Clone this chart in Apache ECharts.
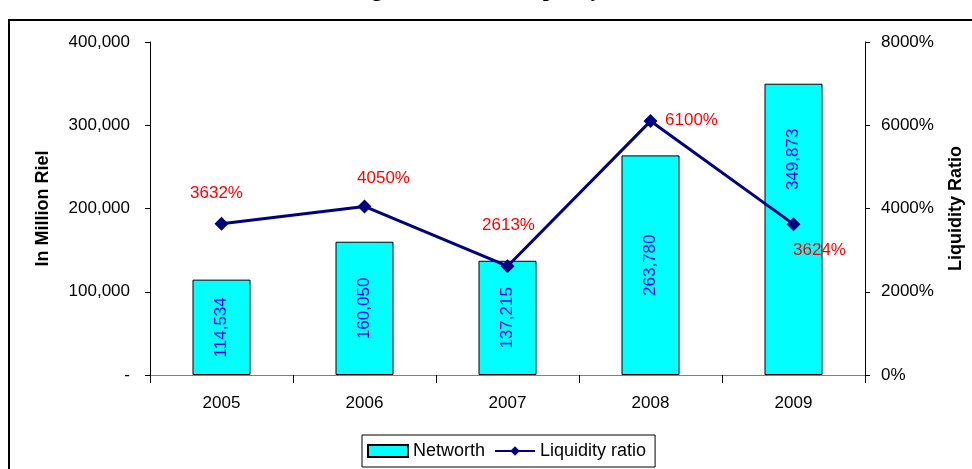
<!DOCTYPE html>
<html>
<head>
<meta charset="utf-8">
<script src="https://cdn.jsdelivr.net/npm/echarts@6/dist/echarts.min.js"></script>
<style>
  html, body { margin: 0; padding: 0; background: #fff; }
  #main { width: 972px; height: 469px; }
</style>
</head>
<body>
<div id="main"></div>
<script>
// data
const years = ['2005', '2006', '2007', '2008', '2009'];
const networth = [114534, 160050, 137215, 263780, 349873];
const liquidityRatio = [3632, 4050, 2613, 6100, 3624];   // in %
const leftTicks = [0, 100000, 200000, 300000, 400000];
const rightTicks = [0, 2000, 4000, 6000, 8000];

// label placement (pixels)
const ratioLabelOffset = [[-5, -31], [19, -28], [1, -41], [41, -1], [26, 26]];
const barLabelShift = [0, 0, 0, 0, 70];

let myChart = echarts.init(document.getElementById('main'));

let fmt = function (v) {
    if (v === 0) return '-';
    return String(v).replace(/\B(?=(\d{3})+(?!\d))/g, ',');
};

let option = {
    animation: false,
    textStyle: { fontFamily: 'Liberation Sans, Arial, sans-serif' },
    title: {
        text: 'Banking Networth and Liquidity Ratio',
        left: 476,
        textAlign: 'center',
        top: -25,
        textStyle: { fontFamily: 'Liberation Serif, serif', fontWeight: 'bold', fontSize: 21, color: '#000' }
    },
    graphic: [
        {
            type: 'polyline',
            shape: { points: [[9, 469], [9, 20], [972, 20]] },
            style: { stroke: '#000', lineWidth: 2, fill: null }
        }
    ],
    legend: {
        left: 362,
        top: 435,
        padding: [7, 9, 7, 5],
        borderColor: '#000',
        borderWidth: 1,
        borderRadius: 0,
        itemGap: 9,
        itemWidth: 40,
        itemHeight: 12,
        textStyle: { fontSize: 18, color: '#000', fontFamily: 'Liberation Sans, Arial, sans-serif' },
        data: [
            { name: 'Networth', icon: 'rect' },
            { name: 'Liquidity ratio' }
        ]
    },
    grid: { left: 150, right: 107, top: 42, bottom: 94, containLabel: false, outerBoundsMode: 'none' },
    xAxis: [
        {
            type: 'category',
            data: years,
            boundaryGap: true,
            axisLine: { lineStyle: { color: '#000', width: 1 } },
            axisTick: { show: true, length: 8, alignWithLabel: false, lineStyle: { color: '#000' } },
            axisLabel: { fontSize: 17, color: '#000', margin: 20 },
            splitLine: { show: false }
        },
        {
            type: 'category',
            data: years,
            position: 'top',
            axisLine: { lineStyle: { color: '#808080', width: 1 } },
            axisTick: { show: false },
            axisLabel: { show: false },
            splitLine: { show: false }
        }
    ],
    yAxis: [
        {
            type: 'value',
            min: leftTicks[0],
            max: leftTicks[leftTicks.length - 1],
            interval: leftTicks[1] - leftTicks[0],
            name: 'In Million Riel',
            nameLocation: 'middle',
            nameRotate: 90,
            nameGap: 98,
            nameTextStyle: { fontSize: 18, fontWeight: 'bold', color: '#000' },
            axisLine: { show: true, lineStyle: { color: '#000' } },
            axisTick: { show: true, length: 5, lineStyle: { color: '#000' } },
            axisLabel: { fontSize: 17, color: '#000', margin: 20, formatter: fmt },
            splitLine: { show: false }
        },
        {
            type: 'value',
            min: rightTicks[0],
            max: rightTicks[rightTicks.length - 1],
            interval: rightTicks[1] - rightTicks[0],
            position: 'right',
            name: 'Liquidity Ratio',
            nameLocation: 'middle',
            nameRotate: 90,
            nameGap: 82,
            nameTextStyle: { fontSize: 18, fontWeight: 'bold', color: '#000' },
            axisLine: { show: true, lineStyle: { color: '#000' } },
            axisTick: { show: true, length: 5, lineStyle: { color: '#000' } },
            axisLabel: { fontSize: 17, color: '#000', margin: 16, formatter: function (v) { return v + '%'; } },
            splitLine: { show: false }
        }
    ],
    series: [
        {
            name: 'Networth',
            type: 'bar',
            yAxisIndex: 0,
            barWidth: 58,
            itemStyle: { color: '#00FFFF', borderColor: '#000', borderWidth: 1 },
            label: {
                show: true,
                position: 'inside',
                rotate: 90,
                fontSize: 17,
                color: '#0000FF',
                formatter: function (p) { return fmt(p.value); }
            },
            data: networth.map(function (v, i) {
                return { value: v, label: { offset: [barLabelShift[i], 0] } };
            })
        },
        {
            name: 'Liquidity ratio',
            type: 'line',
            yAxisIndex: 1,
            symbol: 'diamond',
            symbolSize: 14,
            lineStyle: { color: '#000080', width: 3 },
            itemStyle: { color: '#000080' },
            label: {
                show: true,
                position: 'inside',
                fontSize: 17,
                color: '#FF0000',
                formatter: '{c}%'
            },
            data: liquidityRatio.map(function (v, i) {
                return { value: v, label: { offset: ratioLabelOffset[i] } };
            })
        }
    ]
};
myChart.setOption(option);
</script>
</body>
</html>
